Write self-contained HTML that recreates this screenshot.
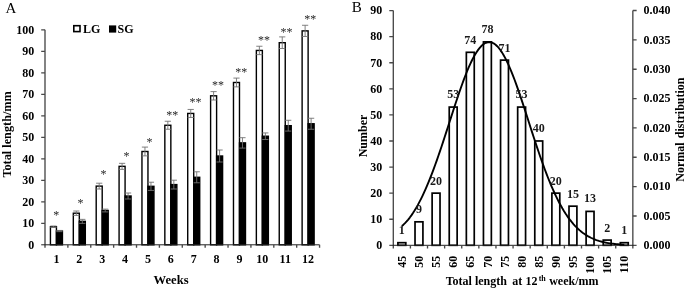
<!DOCTYPE html>
<html><head><meta charset="utf-8"><title>Figure</title>
<style>
html,body{margin:0;padding:0;background:#fff;}
svg{display:block;}
svg text{font-family:"Liberation Serif",serif;}
</style></head>
<body>
<svg width="685" height="289" viewBox="0 0 685 289">
<rect width="685" height="289" fill="#fff"/>
<g id="chartA">
<rect x="50.44" y="226.74" width="6.00" height="18.06" fill="#fff" stroke="#000" stroke-width="1.4"/>
<rect x="56.44" y="231.04" width="6.00" height="13.76" fill="#000" stroke="#000" stroke-width="1.4"/>
<rect x="73.32" y="213.20" width="6.00" height="31.60" fill="#fff" stroke="#000" stroke-width="1.4"/>
<rect x="79.32" y="221.37" width="6.00" height="23.44" fill="#000" stroke="#000" stroke-width="1.4"/>
<rect x="96.20" y="186.11" width="6.00" height="58.69" fill="#fff" stroke="#000" stroke-width="1.4"/>
<rect x="102.20" y="210.51" width="6.00" height="34.29" fill="#000" stroke="#000" stroke-width="1.4"/>
<rect x="119.08" y="166.33" width="6.00" height="78.47" fill="#fff" stroke="#000" stroke-width="1.4"/>
<rect x="125.08" y="196.00" width="6.00" height="48.81" fill="#000" stroke="#000" stroke-width="1.4"/>
<rect x="141.96" y="151.49" width="6.00" height="93.31" fill="#fff" stroke="#000" stroke-width="1.4"/>
<rect x="147.96" y="186.32" width="6.00" height="58.48" fill="#000" stroke="#000" stroke-width="1.4"/>
<rect x="164.84" y="125.26" width="6.00" height="119.54" fill="#fff" stroke="#000" stroke-width="1.4"/>
<rect x="170.84" y="184.60" width="6.00" height="60.20" fill="#000" stroke="#000" stroke-width="1.4"/>
<rect x="187.72" y="113.44" width="6.00" height="131.37" fill="#fff" stroke="#000" stroke-width="1.4"/>
<rect x="193.72" y="177.29" width="6.00" height="67.51" fill="#000" stroke="#000" stroke-width="1.4"/>
<rect x="210.60" y="95.81" width="6.00" height="148.99" fill="#fff" stroke="#000" stroke-width="1.4"/>
<rect x="216.60" y="156.01" width="6.00" height="88.79" fill="#000" stroke="#000" stroke-width="1.4"/>
<rect x="233.48" y="82.48" width="6.00" height="162.32" fill="#fff" stroke="#000" stroke-width="1.4"/>
<rect x="239.48" y="142.89" width="6.00" height="101.91" fill="#000" stroke="#000" stroke-width="1.4"/>
<rect x="256.36" y="50.44" width="6.00" height="194.36" fill="#fff" stroke="#000" stroke-width="1.4"/>
<rect x="262.36" y="136.23" width="6.00" height="108.57" fill="#000" stroke="#000" stroke-width="1.4"/>
<rect x="279.24" y="42.70" width="6.00" height="202.10" fill="#fff" stroke="#000" stroke-width="1.4"/>
<rect x="285.24" y="125.69" width="6.00" height="119.11" fill="#000" stroke="#000" stroke-width="1.4"/>
<rect x="302.12" y="30.88" width="6.00" height="213.92" fill="#fff" stroke="#000" stroke-width="1.4"/>
<rect x="308.12" y="123.76" width="6.00" height="121.04" fill="#000" stroke="#000" stroke-width="1.4"/>
<path d="M53.44 226.04V227.44M50.34 226.04H56.54M50.34 227.44H56.54" stroke="#737373" stroke-width="0.9" fill="none"/>
<path d="M59.44 230.44V231.64M56.34 230.44H62.54M56.34 231.64H62.54" stroke="#737373" stroke-width="0.9" fill="none"/>
<path d="M76.32 211.00V215.40M73.22 211.00H79.42M73.22 215.40H79.42" stroke="#737373" stroke-width="0.9" fill="none"/>
<path d="M82.32 219.37V223.37M79.22 219.37H85.42M79.22 223.37H85.42" stroke="#737373" stroke-width="0.9" fill="none"/>
<path d="M99.20 183.21V189.01M96.10 183.21H102.30M96.10 189.01H102.30" stroke="#737373" stroke-width="0.9" fill="none"/>
<path d="M105.20 209.11V211.91M102.10 209.11H108.30M102.10 211.91H108.30" stroke="#737373" stroke-width="0.9" fill="none"/>
<path d="M122.08 163.33V169.33M118.98 163.33H125.18M118.98 169.33H125.18" stroke="#737373" stroke-width="0.9" fill="none"/>
<path d="M128.08 193.00V199.00M124.98 193.00H131.18M124.98 199.00H131.18" stroke="#737373" stroke-width="0.9" fill="none"/>
<path d="M144.96 147.09V155.89M141.86 147.09H148.06M141.86 155.89H148.06" stroke="#737373" stroke-width="0.9" fill="none"/>
<path d="M150.96 182.22V190.42M147.86 182.22H154.06M147.86 190.42H154.06" stroke="#737373" stroke-width="0.9" fill="none"/>
<path d="M167.84 121.26V129.26M164.74 121.26H170.94M164.74 129.26H170.94" stroke="#737373" stroke-width="0.9" fill="none"/>
<path d="M173.84 180.20V189.00M170.74 180.20H176.94M170.74 189.00H176.94" stroke="#737373" stroke-width="0.9" fill="none"/>
<path d="M190.72 109.44V117.44M187.62 109.44H193.82M187.62 117.44H193.82" stroke="#737373" stroke-width="0.9" fill="none"/>
<path d="M196.72 171.79V182.79M193.62 171.79H199.82M193.62 182.79H199.82" stroke="#737373" stroke-width="0.9" fill="none"/>
<path d="M213.60 91.61V100.01M210.50 91.61H216.70M210.50 100.01H216.70" stroke="#737373" stroke-width="0.9" fill="none"/>
<path d="M219.60 150.01V162.01M216.50 150.01H222.70M216.50 162.01H222.70" stroke="#737373" stroke-width="0.9" fill="none"/>
<path d="M236.48 78.08V86.88M233.38 78.08H239.58M233.38 86.88H239.58" stroke="#737373" stroke-width="0.9" fill="none"/>
<path d="M242.48 137.69V148.09M239.38 137.69H245.58M239.38 148.09H245.58" stroke="#737373" stroke-width="0.9" fill="none"/>
<path d="M259.36 46.24V54.64M256.26 46.24H262.46M256.26 54.64H262.46" stroke="#737373" stroke-width="0.9" fill="none"/>
<path d="M265.36 132.93V139.53M262.26 132.93H268.46M262.26 139.53H268.46" stroke="#737373" stroke-width="0.9" fill="none"/>
<path d="M282.24 36.90V48.50M279.14 36.90H285.34M279.14 48.50H285.34" stroke="#737373" stroke-width="0.9" fill="none"/>
<path d="M288.24 120.29V131.09M285.14 120.29H291.34M285.14 131.09H291.34" stroke="#737373" stroke-width="0.9" fill="none"/>
<path d="M305.12 25.28V36.48M302.02 25.28H308.22M302.02 36.48H308.22" stroke="#737373" stroke-width="0.9" fill="none"/>
<path d="M311.12 118.26V129.26M308.02 118.26H314.22M308.02 129.26H314.22" stroke="#737373" stroke-width="0.9" fill="none"/>
<path d="M45.00 29.80V247.80" stroke="#484848" stroke-width="1.35" fill="none"/>
<path d="M41.20 244.80H319.56" stroke="#222" stroke-width="1" fill="none"/>
<path d="M41.20 223.30H45.00M41.20 201.80H45.00M41.20 180.30H45.00M41.20 158.80H45.00M41.20 137.30H45.00M41.20 115.80H45.00M41.20 94.30H45.00M41.20 72.80H45.00M41.20 51.30H45.00M41.20 29.80H45.00M67.88 244.80V247.80M90.76 244.80V247.80M113.64 244.80V247.80M136.52 244.80V247.80M159.40 244.80V247.80M182.28 244.80V247.80M205.16 244.80V247.80M228.04 244.80V247.80M250.92 244.80V247.80M273.80 244.80V247.80M296.68 244.80V247.80M319.56 244.80V247.80" stroke="#484848" stroke-width="1.35" fill="none"/>
<text x="34.2" y="248.80" text-anchor="end" font-size="12" font-weight="bold">0</text>
<text x="34.2" y="227.30" text-anchor="end" font-size="12" font-weight="bold">10</text>
<text x="34.2" y="205.80" text-anchor="end" font-size="12" font-weight="bold">20</text>
<text x="34.2" y="184.30" text-anchor="end" font-size="12" font-weight="bold">30</text>
<text x="34.2" y="162.80" text-anchor="end" font-size="12" font-weight="bold">40</text>
<text x="34.2" y="141.30" text-anchor="end" font-size="12" font-weight="bold">50</text>
<text x="34.2" y="119.80" text-anchor="end" font-size="12" font-weight="bold">60</text>
<text x="34.2" y="98.30" text-anchor="end" font-size="12" font-weight="bold">70</text>
<text x="34.2" y="76.80" text-anchor="end" font-size="12" font-weight="bold">80</text>
<text x="34.2" y="55.30" text-anchor="end" font-size="12" font-weight="bold">90</text>
<text x="34.2" y="33.80" text-anchor="end" font-size="12" font-weight="bold">100</text>
<text x="56.44" y="262.8" text-anchor="middle" font-size="12" font-weight="bold">1</text>
<text x="79.32" y="262.8" text-anchor="middle" font-size="12" font-weight="bold">2</text>
<text x="102.20" y="262.8" text-anchor="middle" font-size="12" font-weight="bold">3</text>
<text x="125.08" y="262.8" text-anchor="middle" font-size="12" font-weight="bold">4</text>
<text x="147.96" y="262.8" text-anchor="middle" font-size="12" font-weight="bold">5</text>
<text x="170.84" y="262.8" text-anchor="middle" font-size="12" font-weight="bold">6</text>
<text x="193.72" y="262.8" text-anchor="middle" font-size="12" font-weight="bold">7</text>
<text x="216.60" y="262.8" text-anchor="middle" font-size="12" font-weight="bold">8</text>
<text x="239.48" y="262.8" text-anchor="middle" font-size="12" font-weight="bold">9</text>
<text x="262.36" y="262.8" text-anchor="middle" font-size="12" font-weight="bold">10</text>
<text x="285.24" y="262.8" text-anchor="middle" font-size="12" font-weight="bold">11</text>
<text x="308.12" y="262.8" text-anchor="middle" font-size="12" font-weight="bold">12</text>
<text x="56.30" y="219.15" text-anchor="middle" font-size="12" fill="#262626">*</text>
<text x="80.40" y="206.60" text-anchor="middle" font-size="12" fill="#262626">*</text>
<text x="103.60" y="178.20" text-anchor="middle" font-size="12" fill="#262626">*</text>
<text x="126.40" y="160.10" text-anchor="middle" font-size="12" fill="#262626">*</text>
<text x="149.60" y="145.50" text-anchor="middle" font-size="12" fill="#262626">*</text>
<text x="172.30" y="118.95" text-anchor="middle" font-size="12" fill="#262626">**</text>
<text x="195.40" y="106.30" text-anchor="middle" font-size="12" fill="#262626">**</text>
<text x="217.95" y="89.20" text-anchor="middle" font-size="12" fill="#262626">**</text>
<text x="241.20" y="76.10" text-anchor="middle" font-size="12" fill="#262626">**</text>
<text x="263.95" y="44.20" text-anchor="middle" font-size="12" fill="#262626">**</text>
<text x="286.60" y="36.40" text-anchor="middle" font-size="12" fill="#262626">**</text>
<text x="310.30" y="23.20" text-anchor="middle" font-size="12" fill="#262626">**</text>
<text x="153.6" y="284" font-size="12" font-weight="bold" textLength="35" lengthAdjust="spacingAndGlyphs">Weeks</text>
<text transform="translate(11,177.6) rotate(-90)" font-size="12" font-weight="bold" textLength="86.4" lengthAdjust="spacingAndGlyphs">Total length/mm</text>
<text x="5.6" y="13" font-size="15">A</text>
<rect x="73.8" y="25.7" width="6.2" height="5.9" fill="#fff" stroke="#000" stroke-width="1.6"/>
<text x="82.9" y="32.7" font-size="12" font-weight="bold">LG</text>
<rect x="109" y="25.4" width="7.2" height="7.2" fill="#000"/>
<text x="117.6" y="32.7" font-size="12" font-weight="bold">SG</text>
</g>
<g id="chartB">
<rect x="397.91" y="242.69" width="7.9" height="2.61" fill="#fff" stroke="#000" stroke-width="1.7"/>
<rect x="415.02" y="221.83" width="7.9" height="23.47" fill="#fff" stroke="#000" stroke-width="1.7"/>
<rect x="432.12" y="193.14" width="7.9" height="52.16" fill="#fff" stroke="#000" stroke-width="1.7"/>
<rect x="449.24" y="107.08" width="7.9" height="138.22" fill="#fff" stroke="#000" stroke-width="1.7"/>
<rect x="466.35" y="52.31" width="7.9" height="192.99" fill="#fff" stroke="#000" stroke-width="1.7"/>
<rect x="483.45" y="41.88" width="7.9" height="203.42" fill="#fff" stroke="#000" stroke-width="1.7"/>
<rect x="500.56" y="60.13" width="7.9" height="185.17" fill="#fff" stroke="#000" stroke-width="1.7"/>
<rect x="517.67" y="107.08" width="7.9" height="138.22" fill="#fff" stroke="#000" stroke-width="1.7"/>
<rect x="534.78" y="140.98" width="7.9" height="104.32" fill="#fff" stroke="#000" stroke-width="1.7"/>
<rect x="551.89" y="193.14" width="7.9" height="52.16" fill="#fff" stroke="#000" stroke-width="1.7"/>
<rect x="569.00" y="206.18" width="7.9" height="39.12" fill="#fff" stroke="#000" stroke-width="1.7"/>
<rect x="586.12" y="211.40" width="7.9" height="33.90" fill="#fff" stroke="#000" stroke-width="1.7"/>
<rect x="603.22" y="240.08" width="7.9" height="5.22" fill="#fff" stroke="#000" stroke-width="1.7"/>
<rect x="620.33" y="242.69" width="7.9" height="2.61" fill="#fff" stroke="#000" stroke-width="1.7"/>
<path d="M393.30 10.5V248.50M632.84 10.5V248.50" stroke="#484848" stroke-width="1.35" fill="none"/>
<path d="M389.30 245.30H636.64" stroke="#222" stroke-width="1" fill="none"/>
<path d="M389.30 219.22H393.30M389.30 193.14H393.30M389.30 167.06H393.30M389.30 140.98H393.30M389.30 114.90H393.30M389.30 88.82H393.30M389.30 62.74H393.30M389.30 36.66H393.30M389.30 10.58H393.30M632.84 215.95h3.8M632.84 186.60h3.8M632.84 157.25h3.8M632.84 127.90h3.8M632.84 98.55h3.8M632.84 69.20h3.8M632.84 39.85h3.8M632.84 10.50h3.8M410.41 245.30v3.2M427.52 245.30v3.2M444.63 245.30v3.2M461.74 245.30v3.2M478.85 245.30v3.2M495.96 245.30v3.2M513.07 245.30v3.2M530.18 245.30v3.2M547.29 245.30v3.2M564.40 245.30v3.2M581.51 245.30v3.2M598.62 245.30v3.2M615.73 245.30v3.2" stroke="#484848" stroke-width="1.35" fill="none"/>
<path d="M401.86 226.02L403.44 224.68L405.03 223.15L406.62 221.45L408.21 219.58L409.80 217.55L411.39 215.37L412.98 213.03L414.57 210.54L416.15 207.89L417.74 205.10L419.33 202.15L420.92 199.06L422.51 195.81L424.10 192.42L425.69 188.88L427.28 185.19L428.86 181.37L430.45 177.41L432.04 173.32L433.63 169.11L435.22 164.78L436.81 160.33L438.40 155.79L439.99 151.15L441.57 146.44L443.16 141.65L444.75 136.80L446.34 131.91L447.93 126.99L449.52 122.06L451.11 117.12L452.70 112.20L454.28 107.31L455.87 102.48L457.46 97.71L459.05 93.03L460.64 88.45L462.23 83.99L463.82 79.67L465.41 75.51L467.00 71.52L468.58 67.72L470.17 64.13L471.76 60.77L473.35 57.65L474.94 54.78L476.53 52.17L478.12 49.84L479.71 47.81L481.29 46.07L482.88 44.64L484.47 43.52L486.06 42.72L487.65 42.25L489.24 42.10L490.83 42.28L492.42 42.78L494.00 43.60L495.59 44.75L497.18 46.21L498.77 47.97L500.36 50.03L501.95 52.38L503.54 55.01L505.13 57.91L506.71 61.05L508.30 64.43L509.89 68.04L511.48 71.85L513.07 75.86L514.66 80.03L516.25 84.36L517.84 88.83L519.43 93.42L521.01 98.12L522.60 102.89L524.19 107.73L525.78 112.62L527.37 117.54L528.96 122.48L530.55 127.42L532.14 132.34L533.72 137.22L535.31 142.06L536.90 146.85L538.49 151.56L540.08 156.19L541.67 160.72L543.26 165.16L544.85 169.48L546.43 173.69L548.02 177.77L549.61 181.72L551.20 185.53L552.79 189.21L554.38 192.75L555.97 196.14L557.56 199.38L559.14 202.48L560.73 205.44L562.32 208.25L563.91 210.92L565.50 213.44L567.09 215.83L568.68 218.09L570.27 220.21L571.86 222.20L573.44 224.07L575.03 225.82L576.62 227.45L578.21 228.97L579.80 230.39L581.39 231.71L582.98 232.93L584.57 234.05L586.15 235.10L587.74 236.06L589.33 236.94L590.92 237.75L592.51 238.49L594.10 239.17L595.69 239.79L597.28 240.36L598.86 240.88L600.45 241.34L602.04 241.77L603.63 242.15L605.22 242.50L606.81 242.81L608.40 243.09L609.99 243.34L611.57 243.57L613.16 243.77L614.75 243.95L616.34 244.11L617.93 244.26L619.52 244.39L621.11 244.50L622.70 244.60L624.28 244.69" stroke="#000" stroke-width="1.9" fill="none" stroke-linejoin="round"/>
<text x="401.86" y="233.69" text-anchor="middle" font-size="12" font-weight="bold" fill="#1a1a1a">1</text>
<text x="418.97" y="213.23" text-anchor="middle" font-size="12" font-weight="bold" fill="#1a1a1a">9</text>
<text x="436.07" y="184.54" text-anchor="middle" font-size="12" font-weight="bold" fill="#1a1a1a">20</text>
<text x="453.19" y="98.48" text-anchor="middle" font-size="12" font-weight="bold" fill="#1a1a1a">53</text>
<text x="470.30" y="43.71" text-anchor="middle" font-size="12" font-weight="bold" fill="#1a1a1a">74</text>
<text x="487.40" y="33.28" text-anchor="middle" font-size="12" font-weight="bold" fill="#1a1a1a">78</text>
<text x="504.51" y="51.53" text-anchor="middle" font-size="12" font-weight="bold" fill="#1a1a1a">71</text>
<text x="521.62" y="98.48" text-anchor="middle" font-size="12" font-weight="bold" fill="#1a1a1a">53</text>
<text x="538.74" y="132.38" text-anchor="middle" font-size="12" font-weight="bold" fill="#1a1a1a">40</text>
<text x="555.85" y="184.54" text-anchor="middle" font-size="12" font-weight="bold" fill="#1a1a1a">20</text>
<text x="572.96" y="197.58" text-anchor="middle" font-size="12" font-weight="bold" fill="#1a1a1a">15</text>
<text x="590.07" y="202.40" text-anchor="middle" font-size="12" font-weight="bold" fill="#1a1a1a">13</text>
<text x="607.17" y="232.18" text-anchor="middle" font-size="12" font-weight="bold" fill="#1a1a1a">2</text>
<text x="624.28" y="234.09" text-anchor="middle" font-size="12" font-weight="bold" fill="#1a1a1a">1</text>
<text x="382.3" y="249.10" text-anchor="end" font-size="12" font-weight="bold">0</text>
<text x="382.3" y="223.02" text-anchor="end" font-size="12" font-weight="bold">10</text>
<text x="382.3" y="196.94" text-anchor="end" font-size="12" font-weight="bold">20</text>
<text x="382.3" y="170.86" text-anchor="end" font-size="12" font-weight="bold">30</text>
<text x="382.3" y="144.78" text-anchor="end" font-size="12" font-weight="bold">40</text>
<text x="382.3" y="118.70" text-anchor="end" font-size="12" font-weight="bold">50</text>
<text x="382.3" y="92.62" text-anchor="end" font-size="12" font-weight="bold">60</text>
<text x="382.3" y="66.54" text-anchor="end" font-size="12" font-weight="bold">70</text>
<text x="382.3" y="40.46" text-anchor="end" font-size="12" font-weight="bold">80</text>
<text x="382.3" y="14.38" text-anchor="end" font-size="12" font-weight="bold">90</text>
<text x="643.6" y="249.10" font-size="12" font-weight="bold">0.000</text>
<text x="643.6" y="219.75" font-size="12" font-weight="bold">0.005</text>
<text x="643.6" y="190.40" font-size="12" font-weight="bold">0.010</text>
<text x="643.6" y="161.05" font-size="12" font-weight="bold">0.015</text>
<text x="643.6" y="131.70" font-size="12" font-weight="bold">0.020</text>
<text x="643.6" y="102.35" font-size="12" font-weight="bold">0.025</text>
<text x="643.6" y="73.00" font-size="12" font-weight="bold">0.030</text>
<text x="643.6" y="43.65" font-size="12" font-weight="bold">0.035</text>
<text x="643.6" y="14.30" font-size="12" font-weight="bold">0.040</text>
<text transform="translate(405.96,255.8) rotate(-90)" text-anchor="end" font-size="12" font-weight="bold">45</text>
<text transform="translate(423.07,255.8) rotate(-90)" text-anchor="end" font-size="12" font-weight="bold">50</text>
<text transform="translate(440.18,255.8) rotate(-90)" text-anchor="end" font-size="12" font-weight="bold">55</text>
<text transform="translate(457.29,255.8) rotate(-90)" text-anchor="end" font-size="12" font-weight="bold">60</text>
<text transform="translate(474.40,255.8) rotate(-90)" text-anchor="end" font-size="12" font-weight="bold">65</text>
<text transform="translate(491.50,255.8) rotate(-90)" text-anchor="end" font-size="12" font-weight="bold">70</text>
<text transform="translate(508.62,255.8) rotate(-90)" text-anchor="end" font-size="12" font-weight="bold">75</text>
<text transform="translate(525.73,255.8) rotate(-90)" text-anchor="end" font-size="12" font-weight="bold">80</text>
<text transform="translate(542.84,255.8) rotate(-90)" text-anchor="end" font-size="12" font-weight="bold">85</text>
<text transform="translate(559.95,255.8) rotate(-90)" text-anchor="end" font-size="12" font-weight="bold">90</text>
<text transform="translate(577.06,255.8) rotate(-90)" text-anchor="end" font-size="12" font-weight="bold">95</text>
<text transform="translate(594.17,255.8) rotate(-90)" text-anchor="end" font-size="12" font-weight="bold">100</text>
<text transform="translate(611.27,255.8) rotate(-90)" text-anchor="end" font-size="12" font-weight="bold">105</text>
<text transform="translate(628.38,255.8) rotate(-90)" text-anchor="end" font-size="12" font-weight="bold">110</text>
<text y="285.2" font-size="12" font-weight="bold"><tspan x="445.7">Total length</tspan><tspan x="512.3">at</tspan><tspan x="525.4">12</tspan><tspan x="538.7" font-size="8" dy="-4.2">th</tspan><tspan x="549.2" dy="4.2">week/mm</tspan></text>
<text transform="translate(367.2,157.3) rotate(-90)" font-size="12" font-weight="bold">Number</text>
<text transform="translate(684.3,181.7) rotate(-90)" font-size="12" font-weight="bold" word-spacing="1.2">Normal distribution</text>
<text x="351.7" y="11.5" font-size="15">B</text>
</g>
</svg>
</body></html>
